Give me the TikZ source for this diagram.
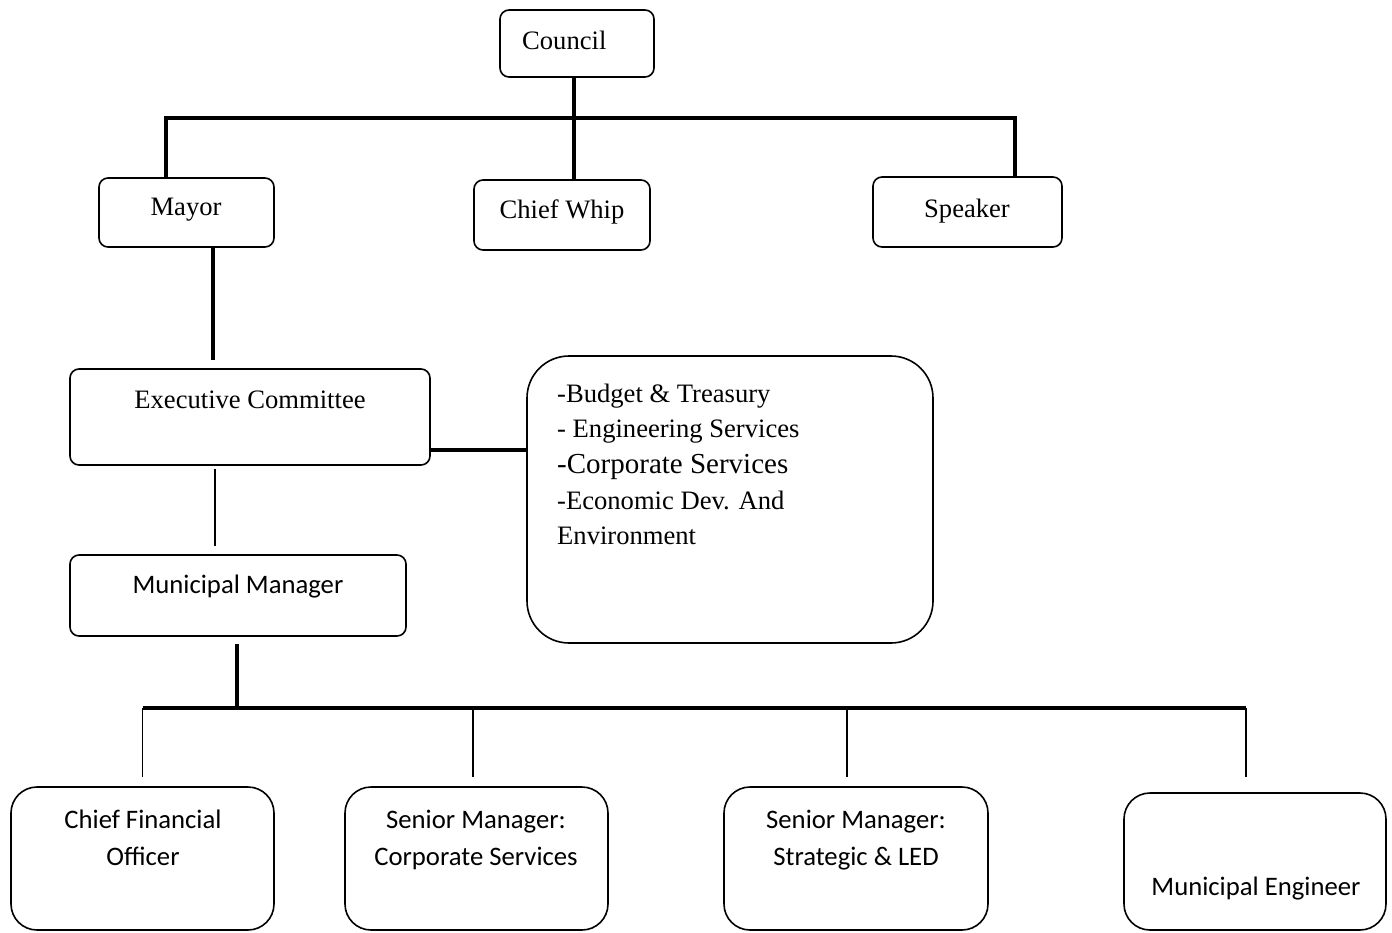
\documentclass[tikz,border=0pt]{standalone}
\usepackage{fontspec}
\setmainfont{Liberation Serif}
\newfontfamily\calibri{Carlito}
\begin{document}
\begin{tikzpicture}[x=1pt,y=-1pt,
  box/.style={draw, line width=1.6pt, rounded corners=9pt, inner sep=0pt},
  bigbox/.style={box, rounded corners=26pt},
  txt/.style={anchor=base, inner sep=0pt, font=\fontsize{26.6}{36}\selectfont},
  ltxt/.style={anchor=base west, inner sep=0pt, font=\fontsize{26.6}{36}\selectfont},
  ctxt/.style={anchor=base, inner sep=0pt, font=\calibri\fontsize{26.7}{36}\selectfont},
  heavy/.style={line width=4pt},
  lite/.style={line width=1.5pt}]
\useasboundingbox (0,0) rectangle (1392,932);
% boxes
\node[box, minimum width=154pt, minimum height=67pt] (council) at (577,43.5) {};
\node[box, minimum width=175pt, minimum height=69pt] (mayor) at (186.5,212.5) {};
\node[box, minimum width=176pt, minimum height=70pt] (whip) at (562,215) {};
\node[box, minimum width=189pt, minimum height=70pt] (speaker) at (967.5,212) {};
\node[box, minimum width=360pt, minimum height=96pt] (exec) at (250,417) {};
\node[box, rounded corners=42pt, minimum width=406pt, minimum height=287pt] (list) at (730,499.5) {};
\node[box, minimum width=336pt, minimum height=81pt] (mm) at (238,595.5) {};
\node[bigbox, minimum width=263pt, minimum height=143pt] (cfo) at (142.5,858.5) {};
\node[bigbox, minimum width=263pt, minimum height=143pt] (smc) at (476.5,858.5) {};
\node[bigbox, minimum width=264pt, minimum height=143pt] (sms) at (856,858.5) {};
\node[bigbox, minimum width=262pt, minimum height=137pt] (me) at (1255,861.5) {};
% texts
\node[ltxt] (tcouncil) at (522,49) {Council};
\node[txt] (tmayor) at (186,215) {Mayor};
\node[txt] (twhip) at (562,218) {Chief Whip};
\node[txt] (tspeaker) at (967,217) {Speaker};
\node[txt] (texec) at (250,408) {Executive Committee};
\node[ltxt] (l1) at (557,402) {-Budget \& Treasury};
\node[ltxt] (l2) at (557,437) {- Engineering Services};
\node[ltxt, font=\fontsize{29}{36}\selectfont] (l3) at (557,473) {-Corporate Services};
\node[ltxt] (l4) at (557,509) {-Economic Dev. And};
\node[ltxt] (l5) at (557,544) {Environment};
\node[ctxt] (tmm) at (238,593) {Municipal Manager};
\node[ctxt] (tcfo1) at (143,828) {Chief Financial};
\node[ctxt] (tcfo2) at (143,865) {Officer};
\node[ctxt] (tsmc1) at (476,828) {Senior Manager:};
\node[ctxt] (tsmc2) at (476,865) {Corporate Services};
\node[ctxt] (tsms1) at (856,828) {Senior Manager:};
\node[ctxt] (tsms2) at (856,865) {Strategic \& LED};
\node[ctxt] (tme) at (1256,895) {Municipal Engineer};
% connectors
\coordinate (bus1) at (574,118);
\coordinate (bus2) at (237,708);
\draw[heavy] ([xshift=-3pt]council.south) -- ([xshift=-3pt]council.south |- whip.north);
\draw[heavy] ([xshift=-20.5pt]mayor.north) |- (bus1) -| ([xshift=47.5pt]speaker.north);
\draw[heavy, shorten >=8pt] ([xshift=26.5pt]mayor.south) -- ([xshift=26.5pt]mayor.south |- exec.north);
\draw[lite, shorten <=3pt, shorten >=8pt] ([xshift=-35pt]exec.south) -- ([xshift=-35pt]exec.south |- mm.north);
\draw[heavy] ([yshift=-33pt]exec.east) -- ([yshift=-33pt]exec.east -| list.west);
\draw[heavy, shorten <=7pt] ([xshift=-1pt]mm.south) -- (bus2);
\draw[heavy] (cfo.north |- bus2) -- ([xshift=-9pt]me.north |- bus2);
\draw[lite, shorten >=9pt] (cfo.north |- bus2) -- (cfo.north);
\draw[lite, shorten >=9pt] ([xshift=-3.5pt]smc.north |- bus2) -- ([xshift=-3.5pt]smc.north);
\draw[lite, shorten >=9pt] ([xshift=-9pt]sms.north |- bus2) -- ([xshift=-9pt]sms.north);
\draw[lite, shorten >=15pt] ([xshift=-9pt]me.north |- bus2) -- ([xshift=-9pt]me.north);
\end{tikzpicture}
\end{document}
